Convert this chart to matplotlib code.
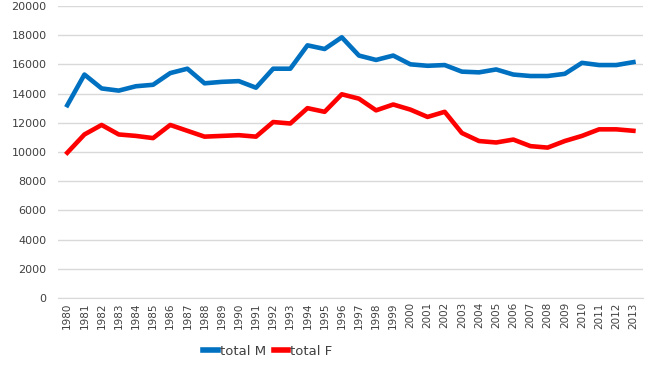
import matplotlib.pyplot as plt

# Data
tahun = list(range(1980, 2014))
total_m = [13200, 15300, 14350, 14200, 14500, 14600, 15400, 15700, 14700, 14800,
           14850, 14400, 15700, 15700, 17300, 17050, 17850, 16600, 16300, 16600,
           16000, 15900, 15950, 15500, 15450, 15650, 15300, 15200, 15200, 15350,
           16100, 15950, 15950, 16150]
total_f = [9950, 11200, 11850, 11200, 11100, 10950, 11850, 11450, 11050, 11100,
           11150, 11050, 12050, 11950, 13000, 12750, 13950, 13650, 12850, 13250,
           12900, 12400, 12750, 11300, 10750, 10650, 10850, 10400, 10300, 10750,
           11100, 11550, 11550, 11450]
y_ticks = list(range(0, 20001, 2000))

fig = plt.figure(figsize=(6.5, 3.68), dpi=100)
ax = fig.add_axes([0.089, 0.19, 0.90, 0.794])

ax.plot(tahun, total_m, color='#0070C0', linewidth=3.3, label='total M')
ax.plot(tahun, total_f, color='#FF0000', linewidth=3.3, label='total F')

ax.set_xlim(1979.45, 2013.55)
ax.set_ylim(0, 20000)
ax.set_yticks(y_ticks)
ax.set_xticks(tahun)
ax.set_xticklabels([str(t) for t in tahun], rotation=90, fontsize=7.5, color='#404040')
ax.tick_params(axis='y', labelsize=8, colors='#404040', length=0, pad=8)
ax.tick_params(axis='x', length=0, pad=3)

ax.grid(axis='y', color='#D9D9D9', linewidth=1)
ax.set_axisbelow(True)
for s in ['top', 'right', 'left']:
    ax.spines[s].set_visible(False)
ax.spines['bottom'].set_color('#D9D9D9')

leg = fig.legend(loc='lower center', bbox_to_anchor=(0.412, -0.005), ncol=2, frameon=False,
                 fontsize=9.5, handlelength=1.1, handletextpad=0.15, columnspacing=0.6,
                 labelcolor='#404040')
for h in leg.get_lines():
    h.set_linewidth(4)

fig.savefig('out.png', dpi=100)
